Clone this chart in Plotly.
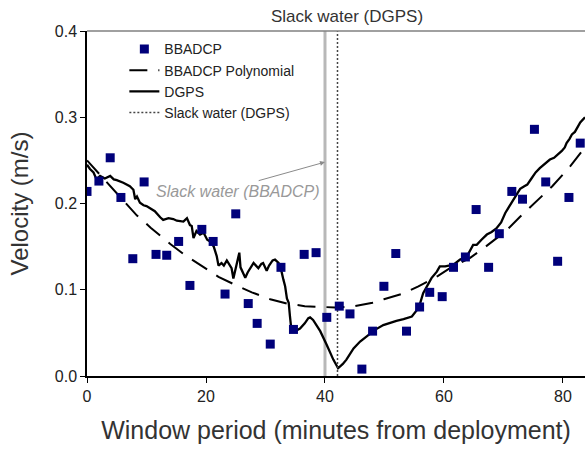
import plotly.graph_objects as go

# ---------------- data ----------------
bbadcp_minutes = [0.0, 2.0, 3.9, 5.7, 7.7, 9.6, 11.6, 13.4, 15.4, 17.3, 19.3, 21.2,
                  23.2, 25.0, 27.1, 28.6, 30.8, 32.6, 34.7, 36.5, 38.5, 40.3, 42.4,
                  44.2, 46.2, 48.0, 49.9, 51.9, 53.7, 55.9, 57.6, 59.7, 61.6, 63.6,
                  65.4, 67.5, 69.3, 71.4, 73.2, 75.2, 77.1, 79.1, 81.0, 82.9]
bbadcp_velocity = [0.214, 0.226, 0.253, 0.207, 0.136, 0.225, 0.141, 0.140, 0.156, 0.105,
                   0.170, 0.156, 0.095, 0.188, 0.084, 0.061, 0.037, 0.126, 0.054, 0.141,
                   0.143, 0.068, 0.081, 0.072, 0.008, 0.052, 0.104, 0.142, 0.052, 0.080,
                   0.097, 0.092, 0.126, 0.138, 0.193, 0.126, 0.165, 0.214, 0.205, 0.286,
                   0.225, 0.133, 0.207, 0.270]

poly_minutes = [0.0, 3.0, 6.1, 8.4, 10.7, 14.0, 16.3, 19.5, 22.1, 25.4, 27.7, 30.8,
                33.6, 36.6, 38.8, 41.7, 44.7, 48.0, 49.9, 53.3, 55.7, 59.0, 61.0,
                64.4, 67.0, 70.4, 72.7, 76.1, 78.2, 81.2, 83.7]
poly_velocity = [0.250, 0.227, 0.203, 0.186, 0.172, 0.153, 0.141, 0.127, 0.115, 0.104,
                 0.097, 0.089, 0.084, 0.081, 0.0806, 0.0794, 0.0806, 0.085, 0.089,
                 0.096, 0.104, 0.116, 0.125, 0.137, 0.150, 0.168, 0.184, 0.206, 0.220,
                 0.243, 0.265]

dgps_minutes = [0.0, 0.5, 1.1, 1.6, 2.2, 3.0, 3.9, 4.5, 5.0, 6.1, 7.2, 7.8, 8.1, 8.4,
                8.9, 9.5, 10.0, 11.4, 12.3, 12.8, 13.7, 14.5, 15.1, 16.2, 16.8, 17.3,
                17.6, 17.9, 18.4, 19.0, 19.6, 20.2, 20.7, 21.3, 21.8, 22.1, 22.6, 23.0,
                23.5, 24.0, 24.3, 24.6, 25.0, 25.3, 25.6, 25.8, 26.2, 26.6, 27.0, 27.5,
                28.0, 28.4, 28.8, 29.3, 29.6, 30.2, 30.6, 31.2, 31.6, 32.2, 32.7, 33.0,
                33.3, 33.6, 33.9, 34.1, 34.3, 34.7, 35.3, 35.8, 36.6, 37.2, 37.5, 38.0,
                38.6, 39.2, 40.3, 41.4, 42.2, 43.0, 43.6, 44.8, 45.9, 47.0, 48.4, 49.8,
                51.0, 52.0, 53.2, 54.6, 55.4, 56.0, 56.5, 57.1, 57.9, 58.8, 59.3, 60.2,
                61.6, 62.7, 63.8, 64.9, 65.5, 66.3, 67.2, 68.0, 68.8, 69.6, 70.3, 71.0,
                71.6, 72.3, 72.8, 73.5, 74.0, 74.7, 75.4, 76.1, 76.8, 77.4, 77.8, 78.5,
                79.2, 79.8, 80.3, 80.6, 81.1, 81.5, 82.0, 82.5, 82.9, 83.7]
dgps_velocity = [0.245, 0.240, 0.236, 0.228, 0.232, 0.229, 0.232, 0.228, 0.227, 0.224,
                 0.220, 0.216, 0.205, 0.208, 0.201, 0.198, 0.197, 0.191, 0.184, 0.181,
                 0.183, 0.182, 0.180, 0.179, 0.183, 0.175, 0.174, 0.160, 0.168, 0.164,
                 0.166, 0.158, 0.156, 0.150, 0.139, 0.128, 0.131, 0.128, 0.134, 0.128,
                 0.125, 0.113, 0.125, 0.133, 0.143, 0.126, 0.119, 0.114, 0.120, 0.126,
                 0.131, 0.128, 0.125, 0.130, 0.131, 0.122, 0.128, 0.134, 0.135, 0.131,
                 0.121, 0.112, 0.104, 0.090, 0.085, 0.070, 0.057, 0.052, 0.053, 0.055,
                 0.061, 0.067, 0.068, 0.065, 0.058, 0.052, 0.036, 0.019, 0.009, 0.014,
                 0.019, 0.032, 0.040, 0.046, 0.0535, 0.059, 0.062, 0.064, 0.066, 0.069,
                 0.076, 0.0845, 0.096, 0.104, 0.1135, 0.121, 0.127, 0.127, 0.129, 0.135,
                 0.138, 0.152, 0.152, 0.158, 0.164, 0.167, 0.171, 0.178, 0.189, 0.197,
                 0.204, 0.212, 0.217, 0.220, 0.222, 0.229, 0.236, 0.241, 0.245, 0.248,
                 0.251, 0.253, 0.257, 0.261, 0.265, 0.270, 0.275, 0.280, 0.283, 0.289,
                 0.294, 0.300]

slack_dgps_minute = 42.1
slack_bbadcp_minute = 40.0
velocity_span = [0.0, 0.4]

x_ticks = [0, 20, 40, 60, 80]
y_ticks = [0.0, 0.1, 0.2, 0.3, 0.4]
y_tick_labels = ["0.0", "0.1", "0.2", "0.3", "0.4"]

FONT = "Liberation Sans, Arial, sans-serif"

fig = go.Figure()

# Slack water (BBADCP) grey vertical line
fig.add_trace(go.Scatter(
    x=[slack_bbadcp_minute, slack_bbadcp_minute], y=velocity_span,
    mode="lines", line=dict(color="#b8b8b8", width=3),
    showlegend=False, hoverinfo="skip"))

fig.add_trace(go.Scatter(
    x=poly_minutes, y=poly_velocity, mode="lines", name="BBADCP Polynomial",
    line=dict(color="black", width=2, dash="18px,11px"), legendrank=2))

fig.add_trace(go.Scatter(
    x=dgps_minutes, y=dgps_velocity, mode="lines", name="DGPS",
    line=dict(color="black", width=2.3), legendrank=3))

fig.add_trace(go.Scatter(
    x=[slack_dgps_minute, slack_dgps_minute], y=velocity_span, mode="lines",
    name="Slack water (DGPS)",
    line=dict(color="#444444", width=1.5, dash="2px,2px"), legendrank=4))

fig.add_trace(go.Scatter(
    x=bbadcp_minutes, y=bbadcp_velocity, mode="markers", name="BBADCP",
    marker=dict(symbol="square", size=9, color="#00007a"), legendrank=1))

# top frame line
fig.add_shape(type="line", xref="paper", yref="paper", x0=0, x1=1, y0=1, y1=1,
              line=dict(color="#808080", width=1.5))

# annotations
fig.add_annotation(x=slack_dgps_minute, y=1, xref="x", yref="paper",
                   text="Slack water (DGPS)", showarrow=False, xshift=10,
                   yanchor="bottom", yshift=3,
                   font=dict(family=FONT, size=17, color="#333333"))

fig.add_annotation(x=slack_bbadcp_minute, y=0.248, xref="x", yref="y",
                   ax=28.6, ay=0.226, axref="x", ayref="y",
                   text="", showarrow=True, arrowhead=2, arrowsize=1,
                   arrowwidth=1, arrowcolor="#8a8a8a")
fig.add_annotation(x=11.3, y=0.214, xref="x", yref="y",
                   text="<i>Slack water (BBADCP)</i>", showarrow=False,
                   xanchor="left", yanchor="middle",
                   font=dict(family=FONT, size=16, color="#999999"))

fig.update_layout(
    width=585, height=455,
    margin=dict(l=87, r=0, t=31, b=79),
    paper_bgcolor="white", plot_bgcolor="white",
    font=dict(family=FONT, color="#222222"),
    showlegend=True,
    legend=dict(x=0.075, y=0.993, xanchor="left", yanchor="top",
                bgcolor="rgba(0,0,0,0)", font=dict(family=FONT, size=14, color="#222222"),
                tracegroupgap=0, itemwidth=30),
    xaxis=dict(range=[0, 83.7], tickvals=x_ticks, showgrid=False, zeroline=False,
               showline=True, linecolor="black", linewidth=1.5,
               ticks="outside", ticklen=5, tickcolor="black",
               tickfont=dict(family=FONT, size=16, color="#222222"),
               title=dict(text="Window period (minutes from deployment)",
                          font=dict(family=FONT, size=25, color="#333333"), standoff=18)),
    yaxis=dict(range=[0, 0.4], tickvals=y_ticks, ticktext=y_tick_labels,
               showgrid=False, zeroline=False,
               showline=True, linecolor="black", linewidth=1.5,
               ticks="outside", ticklen=5, tickcolor="black",
               tickfont=dict(family=FONT, size=16, color="#222222"),
               title=dict(text="Velocity (m/s)",
                          font=dict(family=FONT, size=24, color="#333333"), standoff=19)),
)

fig.write_html("out.html")
